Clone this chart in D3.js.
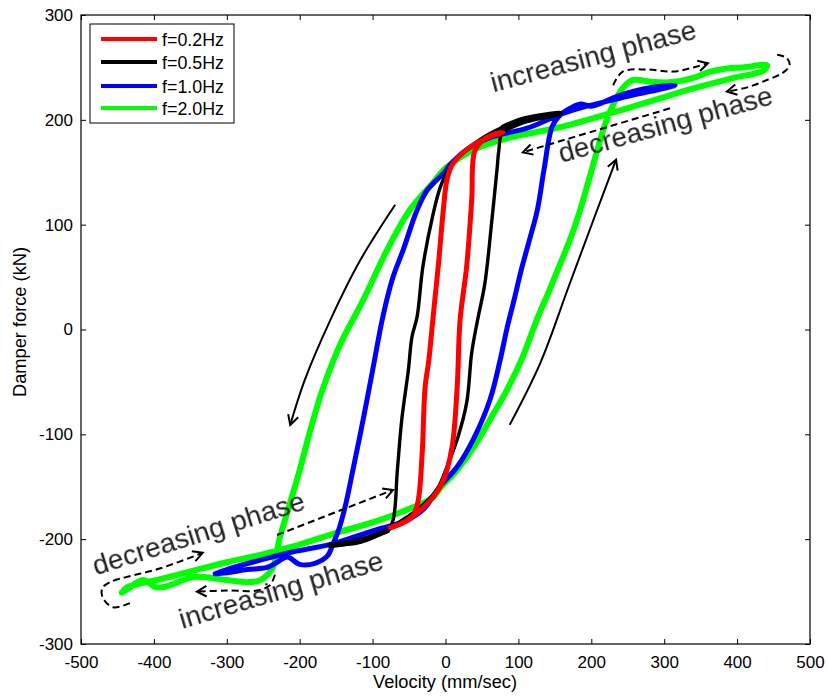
<!DOCTYPE html>
<html><head><meta charset="utf-8">
<script src="https://cdn.jsdelivr.net/npm/d3@7"></script>
<style>
body{margin:0;background:#fff;}
svg{display:block;font-family:"Liberation Sans",Arial,Helvetica,sans-serif;}
</style>
</head><body>
<svg id="chart" width="828" height="698"></svg>
<script>
// ---------------- data (velocity mm/sec, damper force kN) ----------------
const xTickValues = [-500,-400,-300,-200,-100,0,100,200,300,400,500];
const yTickValues = [-300,-200,-100,0,100,200,300];
const seriesNames  = ["f=0.2Hz","f=0.5Hz","f=1.0Hz","f=2.0Hz"];
const seriesColors = ["#ff0000","#000000","#0000ff","#00ff00"];

const loop02Hz = [[-76,-189],[-53,-182],[-21,-163],[-3,-144],[9,-112],[16,-55],[20,9],[29,60],[36,124],[40,170],[52,181],[65,186],[79,188],
  [65,185],[38,176],[20,166],[9,157],[2,143],[-3,114],[-10,60],[-17,12],[-23,-30],[-28,-55],[-32,-118],[-38,-165],[-46,-179],[-60,-185],[-76,-189]];

const loop05Hz = [[-158,-206],[-117,-201],[-80,-192],[-72,-182],[-66,-134],[-60,-86],[-51,-39],[-46,-7],[-39,12],[-31,60],[-18,107],[-7,136],[6,155],[20,166],[47,181],[79,193],[110,201],[157,206],
  [110,199],[79,190],[73,170],[71,155],[64,107],[54,44],[44,9],[36,-22],[29,-70],[16,-105],[2,-131],[-12,-153],[-39,-172],[-66,-185],[-80,-192],[-117,-203],[-158,-206]];

const loop10Hz = [[-316,-233],[-291,-227],[-254,-220],[-209,-212],[-158,-205],[-100,-192],[-53,-182],[-31,-172],[-8,-150],[16,-131],[38,-105],[61,-67],[75,-29],[84,0],[94,28],[104,57],[115,85],[126,114],[135,152],[146,193],[155,203],[171,211],[185,215],[200,213],[214,216],[230,221],[257,227],[285,231],[315,233],
  [300,230],[260,224],[230,219],[194,213],[157,205],[112,192],[65,184],[34,174],[10,160],[-3,149],[-25,133],[-39,114],[-58,76],[-72,50],[-86,12],[-100,-39],[-113,-86],[-127,-134],[-138,-170],[-146,-190],[-154,-204],[-162,-216],[-179,-223],[-200,-224],[-217,-217],[-231,-222],[-245,-227],[-272,-229],[-300,-232],[-316,-233]];

const loop20Hz = [[-444,-251],[-437,-246],[-390,-238],[-346,-230],[-300,-222],[-254,-215],[-209,-207],[-145,-193],[-100,-184],[-53,-172],[-17,-160],[-7,-151],[16,-134],[38,-113],[61,-86],[84,-58],[106,-26],[125,9],[141,35],[157,62],[172,88],[186,117],[198,146],[209,173],[220,198],[231,216],[244,231],[257,238],[285,236],[312,236],[340,240],[363,246],[386,249],[408,250],[441,252],
  [436,247],[395,240],[340,230],[249,211],[157,193],[88,183],[43,173],[20,164],[-3,152],[-17,140],[-49,114],[-80,76],[-113,28],[-145,-15],[-170,-60],[-187,-100],[-200,-134],[-213,-165],[-227,-198],[-231,-210],[-237,-227],[-254,-239],[-272,-241],[-300,-239],[-346,-236],[-378,-244],[-396,-246],[-415,-239],[-437,-248],[-444,-251]];

// annotation arrows (data coordinates)
const arrowDownSolid = [[-69,119],[-117,66],[-158,9],[-193,-48],[-213,-91]];
const arrowUpSolid   = [[88,-91],[130,-32],[169,41],[208,114],[234,162]];
const dashTopInc  = [[230,233],[243,246],[276,248],[312,246],[340,250],[360,254]];
const dashTopHook = [[455,262],[468,259],[472,252],[463,245],[441,238],[414,231],[386,227]];
const dashTopDec  = [[308,211],[106,169]];
const dashBotHook = [[-433,-261],[-456,-265],[-470,-256],[-471,-247],[-460,-241],[-437,-236],[-392,-228],[-333,-213]];
const dashBotDec  = [[-231,-196],[-72,-153]];
const dashBotInc  = [[-234,-234],[-241,-244],[-259,-249],[-300,-249],[-341,-250]];

const labelTexts   = ["increasing phase","decreasing phase","decreasing phase","increasing phase"];
const labelAnchors = [[206,252],[305,187],[-335,-203],[-222,-257]];
const labelAngles  = [-14.8,-15.5,-17.5,-16.5];

// ---------------- drawing ----------------
const svg = d3.select("#chart");
const L = 81, R = 810, T = 15, B = 644;
const x = d3.scaleLinear().domain([-500,500]).range([L,R]);
const y = d3.scaleLinear().domain([-300,300]).range([B,T]);
const fmt = d => String(d);

svg.append("rect").attr("width",828).attr("height",698).attr("fill","#fff");

const defs = svg.append("defs");
defs.append("filter").attr("id","soft").append("feGaussianBlur").attr("stdDeviation",0.4);
defs.append("clipPath").attr("id","plotclip").append("rect")
  .attr("x",L).attr("y",T).attr("width",R-L).attr("height",B-T);

// axes (inward ticks on all sides)
const gx = svg.append("g").attr("transform",`translate(0,${B})`)
  .call(d3.axisBottom(x).tickValues(xTickValues).tickSize(-5).tickPadding(12).tickFormat(fmt));
const gy = svg.append("g").attr("transform",`translate(${L},0)`)
  .call(d3.axisLeft(y).tickValues(yTickValues).tickSize(-5).tickPadding(8).tickFormat(fmt));
const gt = svg.append("g").attr("transform",`translate(0,${T})`)
  .call(d3.axisTop(x).tickValues(xTickValues).tickSize(-5).tickFormat(""));
const gr = svg.append("g").attr("transform",`translate(${R},0)`)
  .call(d3.axisRight(y).tickValues(yTickValues).tickSize(-5).tickFormat(""));
[gx,gy,gt,gr].forEach(g=>{
  g.select(".domain").remove();
  g.selectAll("line").attr("stroke","#000").attr("stroke-width",1);
  g.selectAll("text").attr("font-size",17).attr("fill","#000")
    .attr("font-family","'Liberation Sans',Arial,sans-serif");
});
svg.append("rect").attr("x",L).attr("y",T).attr("width",R-L).attr("height",B-T)
  .attr("fill","none").attr("stroke","#000").attr("stroke-width",1.2);

// axis labels
svg.append("text").attr("x",445).attr("y",688).attr("text-anchor","middle")
  .attr("font-size",18).attr("textLength",144).attr("lengthAdjust","spacingAndGlyphs")
  .text("Velocity (mm/sec)");
svg.append("text").attr("transform","translate(26,322) rotate(-90)").attr("text-anchor","middle")
  .attr("font-size",18).attr("textLength",150).attr("lengthAdjust","spacingAndGlyphs")
  .text("Damper force (kN)");

// loops
const line = d3.line().x(d=>x(d[0])).y(d=>y(d[1])).curve(d3.curveCatmullRom.alpha(0.5));
const plot = svg.append("g").attr("clip-path","url(#plotclip)");
const loops = [loop02Hz, loop05Hz, loop10Hz, loop20Hz];
const widths = [5, 3.4, 5, 6];
[3,2,1,0].forEach(i=>{
  plot.append("path").attr("d",line(loops[i])).attr("fill","none")
    .attr("stroke",seriesColors[i]).attr("stroke-width",widths[i])
    .attr("stroke-linejoin","round").attr("stroke-linecap","round");
  if(i===1){
    // heavier tails where the measured trace overlaps itself
    const lo = loop05Hz.slice(0,3), hi = loop05Hz.slice(15,20);
    [lo,hi].forEach(seg=>plot.append("path").attr("d",line(seg)).attr("fill","none")
      .attr("stroke","#000").attr("stroke-width",5.5).attr("stroke-linecap","round"));
  }
});

// annotation arrows
const ann = svg.append("g");
function arrowHead(pts){
  const p1 = pts[pts.length-1], p0 = pts[pts.length-2];
  const X1=x(p1[0]),Y1=y(p1[1]),X0=x(p0[0]),Y0=y(p0[1]);
  const a = Math.atan2(Y1-Y0,X1-X0), len=11, sp=0.5;
  const d = `M${X1-len*Math.cos(a-sp)},${Y1-len*Math.sin(a-sp)}L${X1},${Y1}L${X1-len*Math.cos(a+sp)},${Y1-len*Math.sin(a+sp)}`;
  ann.append("path").attr("d",d).attr("fill","none").attr("stroke","#000")
    .attr("stroke-width",2).attr("stroke-linejoin","miter");
}
[arrowDownSolid, arrowUpSolid].forEach(p=>{
  ann.append("path").attr("d",line(p)).attr("fill","none").attr("stroke","#000").attr("stroke-width",2);
  arrowHead(p);
});
[dashTopInc,dashTopHook,dashTopDec,dashBotHook,dashBotDec,dashBotInc].forEach(p=>{
  ann.append("path").attr("d",line(p)).attr("fill","none").attr("stroke","#000")
    .attr("stroke-width",2).attr("stroke-dasharray","7,4");
  arrowHead(p);
});

// annotation text
labelTexts.forEach((t,i)=>{
  const px = x(labelAnchors[i][0]), py = y(labelAnchors[i][1]);
  svg.append("text").attr("transform",`translate(${px},${py}) rotate(${labelAngles[i]})`)
    .attr("text-anchor","middle").attr("font-size",28).attr("fill","#222")
    .attr("filter","url(#soft)").text(t);
});

// legend
const lg = svg.append("g");
lg.append("rect").attr("x",90).attr("y",24).attr("width",144).attr("height",99)
  .attr("fill","#fff").attr("stroke","#000").attr("stroke-width",1);
const rowY = [39,62,86,108];
seriesNames.forEach((n,i)=>{
  lg.append("line").attr("x1",101).attr("x2",157).attr("y1",rowY[i]).attr("y2",rowY[i])
    .attr("stroke",seriesColors[i]).attr("stroke-width",4);
  lg.append("text").attr("x",162).attr("y",rowY[i]+6.5).attr("font-size",18)
    .attr("textLength",62).attr("lengthAdjust","spacingAndGlyphs").text(n);
});
</script>
</body></html>
